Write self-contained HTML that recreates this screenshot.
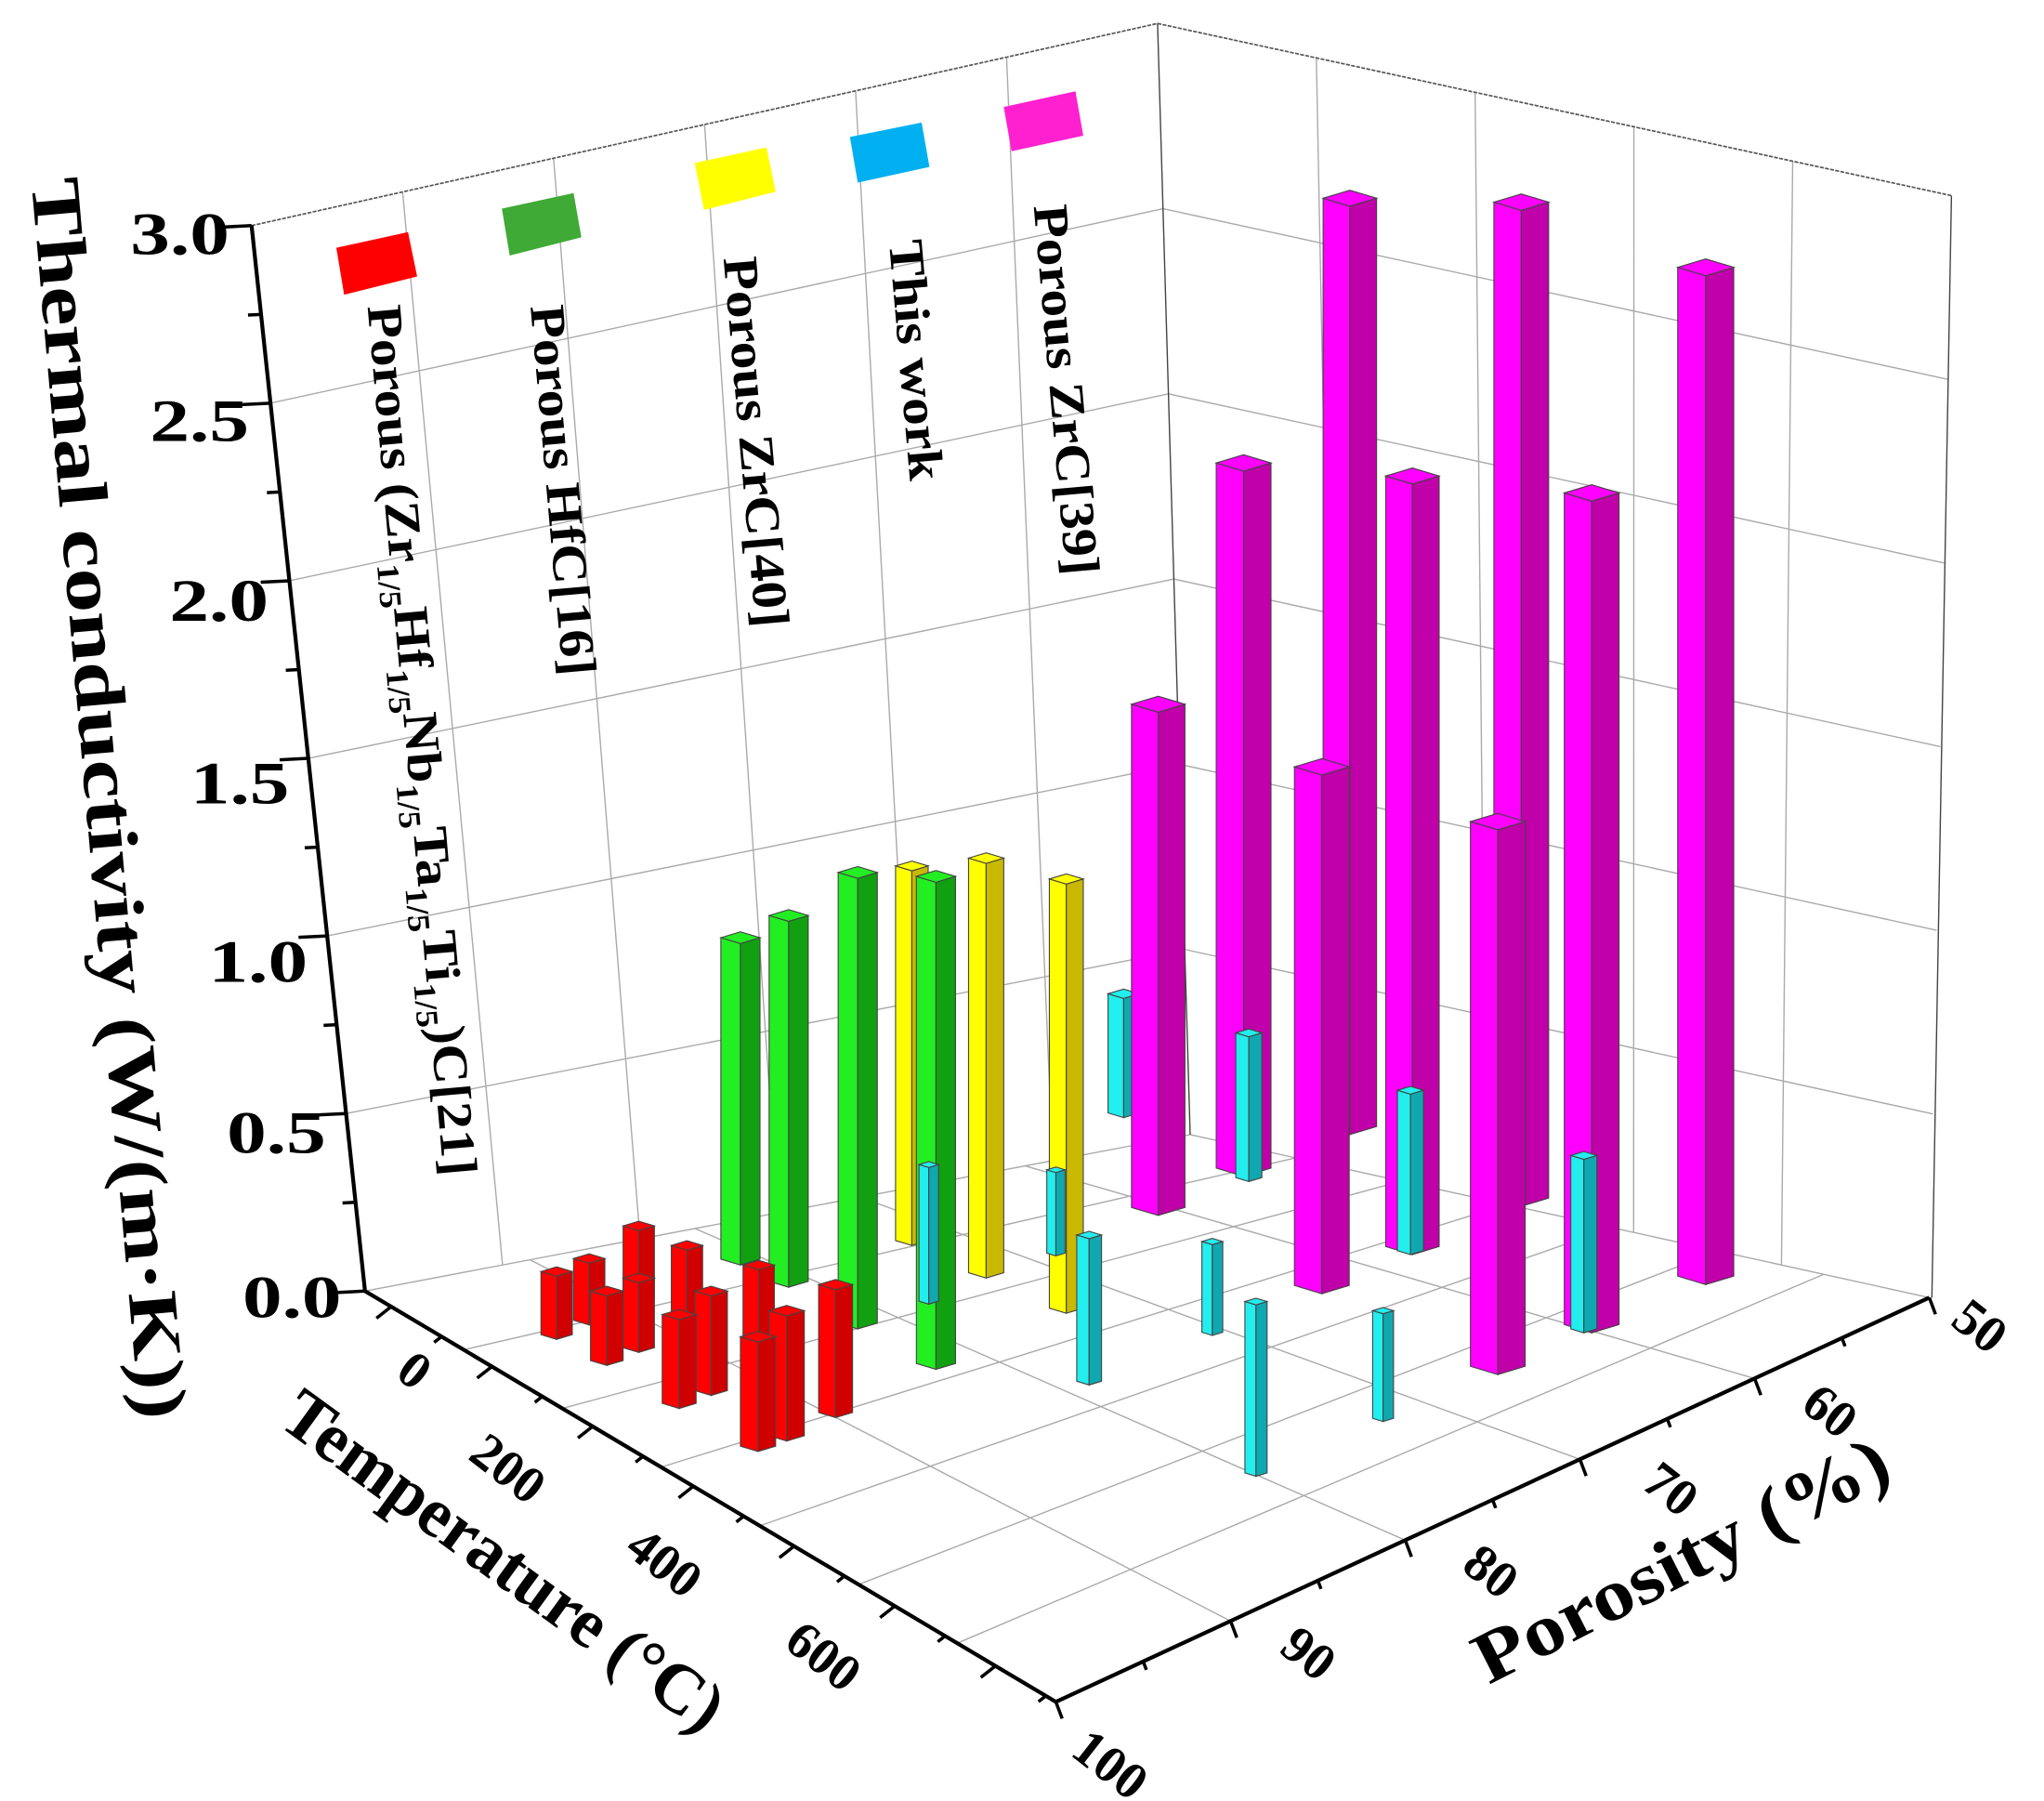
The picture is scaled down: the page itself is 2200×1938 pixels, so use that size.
<!DOCTYPE html>
<html><head><meta charset="utf-8"><style>
html,body{margin:0;padding:0;background:#fff}
svg{display:block}
text{font-family:"Liberation Serif",serif;font-weight:bold;fill:#000}
</style></head><body>
<svg id="s" width="2200" height="1938" viewBox="0 0 1568 1381" preserveAspectRatio="none" xmlns="http://www.w3.org/2000/svg">
<g id="grid" stroke="#aaa" stroke-width="1" fill="none"></g>
<g id="frame" stroke="#555" stroke-width="1.2" fill="none" stroke-dasharray="3,1">
<polyline points="193,173 888,18 1497,150"/>
</g>
<g stroke="#444" stroke-width="1" fill="none">
<line x1="888" y1="18" x2="913" y2="870"/>
<line x1="1497" y1="150" x2="1482" y2="995"/>
</g>
<g id="bars"></g>
<g stroke="#000" stroke-width="3" fill="none">
<line x1="193" y1="173" x2="280" y2="990"/>
<line x1="280" y1="990" x2="810" y2="1305"/>
<line x1="810" y1="1305" x2="1480" y2="995"/>
</g>
<g id="ticks" stroke="#000" stroke-width="2.5"></g>
<g font-size="46">
<text x="100" y="195" textLength="76" lengthAdjust="spacingAndGlyphs">3.0</text>
<text x="115" y="338" textLength="76" lengthAdjust="spacingAndGlyphs">2.5</text>
<text x="130" y="476" textLength="76" lengthAdjust="spacingAndGlyphs">2.0</text>
<text x="146" y="616" textLength="76" lengthAdjust="spacingAndGlyphs">1.5</text>
<text x="160" y="753" textLength="76" lengthAdjust="spacingAndGlyphs">1.0</text>
<text x="174" y="884" textLength="76" lengthAdjust="spacingAndGlyphs">0.5</text>
<text x="186" y="1010" textLength="76" lengthAdjust="spacingAndGlyphs">0.0</text>
</g>
<g font-size="40">
<text transform="translate(302,1055) rotate(38)">0</text>
<text transform="translate(358,1118) rotate(38)">200</text>
<text transform="translate(478,1190) rotate(38)">400</text>
<text transform="translate(600,1262) rotate(38)">600</text>
<text transform="translate(1495,1015) rotate(38)">50</text>
<text transform="translate(1380,1080) rotate(38)">60</text>
<text transform="translate(1258,1140) rotate(38)">70</text>
<text transform="translate(1120,1203) rotate(38)">80</text>
<text transform="translate(980,1266) rotate(38)">90</text>
<text transform="translate(820,1345) rotate(38)">100</text>
</g>
<text font-size="54" transform="translate(24,138) rotate(85)" textLength="955" lengthAdjust="spacingAndGlyphs">Thermal conductivity (W/(m·K))</text>
<text font-size="54" transform="translate(212,1092) rotate(36)" textLength="405" lengthAdjust="spacingAndGlyphs">Temperature (°C)</text>
<text font-size="56" transform="translate(1142,1292) rotate(-27)" textLength="350" lengthAdjust="spacingAndGlyphs">Porosity (%)</text>
<g>
<polygon points="258,190 313,178 320,212 264,226" fill="#ff0000"/>
<polygon points="385,160 440,148 446,182 391,196" fill="#3faa35"/>
<polygon points="533,125 588,113 595,147 540,161" fill="#ffff00"/>
<polygon points="652,105 707,94 713,128 658,140" fill="#00b0f0"/>
<polygon points="770,82 825,70 831,104 776,116" fill="#ff20d0"/>
</g>
<g font-size="38">
<text transform="translate(282,235) rotate(85)" textLength="670" lengthAdjust="spacingAndGlyphs">Porous (Zr<tspan font-size="24" dy="10">1/5</tspan><tspan dy="-10">Hf</tspan><tspan font-size="24" dy="10">1/5</tspan><tspan dy="-10">Nb</tspan><tspan font-size="24" dy="10">1/5</tspan><tspan dy="-10">Ta</tspan><tspan font-size="24" dy="10">1/5</tspan><tspan dy="-10">Ti</tspan><tspan font-size="24" dy="10">1/5</tspan><tspan dy="-10">)C[21]</tspan></text>
<text transform="translate(407,235) rotate(85)" textLength="285" lengthAdjust="spacingAndGlyphs">Porous HfC[16]</text>
<text transform="translate(555,198) rotate(85)" textLength="285" lengthAdjust="spacingAndGlyphs">Porous ZrC[40]</text>
<text transform="translate(682,185) rotate(85)" textLength="185" lengthAdjust="spacingAndGlyphs">This work</text>
<text transform="translate(793,158) rotate(85)" textLength="285" lengthAdjust="spacingAndGlyphs">Porous ZrC[39]</text>
</g>
</svg>
<script>
var NS="http://www.w3.org/2000/svg";
function el(p,t,a){var e=document.createElementNS(NS,t);for(var k in a)e.setAttribute(k,a[k]);p.appendChild(e);return e;}
function L(a,b,t){return [a[0]+(b[0]-a[0])*t,a[1]+(b[1]-a[1])*t];}
var g=document.getElementById('grid');
var F=[810,1305],Lc=[280,990],B=[913,870],R=[1480,995],Lt=[193,173],Bt=[888,18],Rt=[1497,150];
function line(a,b){el(g,'line',{x1:a[0],y1:a[1],x2:b[0],y2:b[1]});}
for(var i=1;i<7;i++){var t=i/7;line(L(Lc,F,t),L(B,R,t));}
for(var i=1;i<5;i++){var t=i/5;line(L(F,R,t),L(Lc,B,t));}
line(Lc,B);line(B,R);
for(var i=1;i<6;i++){var t=i/6;line(L(Lc,Lt,t),L(B,Bt,t));}
for(var i=1;i<6;i++){var t=i/6;line(L(Lt,Bt,t),L(Lc,B,t));}
for(var i=1;i<6;i++){var t=i/6;line(L(B,Bt,t),L(R,Rt,t));}
for(var i=1;i<5;i++){var t=i/5;line(L(Bt,Rt,t),L(B,R,t));}
var tk=document.getElementById('ticks');
for(var i=0;i<=12;i++){var p=L(Lc,Lt,i/12);var len=i%2?10:22;el(tk,'line',{x1:p[0]-len,y1:p[1]+len*0.05,x2:p[0],y2:p[1]});}
for(var i=0;i<=13;i++){var p=L([300,1002],F,i/13.2);var len=i%2?8:16;el(tk,'line',{x1:p[0],y1:p[1],x2:p[0]-len*0.7,y2:p[1]+len*0.55});}
for(var i=0;i<=10;i++){var p=L(F,R,i/10);var len=i%2?8:16;el(tk,'line',{x1:p[0],y1:p[1],x2:p[0]+len*0.3,y2:p[1]+len*0.8});}
var bars=document.getElementById('bars');
var C={m:['#ff00ff','#c000a8'],g:['#22ee22','#10a010'],y:['#ffff00','#c8b800'],c:['#22eeee','#10a8b0'],r:['#ff0000','#d00000']};
function bar(x,t,b,w,c){var h=w*0.15,col=C[c],s='#444';
el(bars,'polygon',{points:[x,t,x+w/2,t+h,x+w/2,b,x,b-h].join(' '),fill:col[0],stroke:s,'stroke-width':0.8});
el(bars,'polygon',{points:[x+w/2,t+h,x+w,t,x+w,b-h,x+w/2,b].join(' '),fill:col[1],stroke:s,'stroke-width':0.8});
el(bars,'polygon',{points:[x,t,x+w/2,t-h,x+w,t,x+w/2,t+h].join(' '),fill:col[0],stroke:s,'stroke-width':0.8});}
var list=[
['m',1287,205,985,43],['m',1146,155,925,42],['m',1015,152,870,41],
['c',850,762,857,24],
['y',687,664,955,25],['g',703,672,1050,30],
['m',868,540,932,41],['m',933,355,902,42],['m',1063,365,962,41],['m',1200,378,1022,42],
['c',948,792,906,20],['c',1072,836,962,20],['c',1205,886,1022,20],
['y',743,658,980,27],['y',805,674,1007,26],
['g',553,719,970,30],['g',590,702,987,30],['g',643,669,1019,30],
['c',705,893,1000,15],['c',803,897,963,14],['c',826,947,1062,19],['c',922,952,1024,16],
['m',993,588,992,42],['m',1128,630,1054,42],
['c',955,998,1132,17],['c',1053,1005,1090,16],
['r',478,940,1000,24],['r',515,955,1012,24],['r',440,965,1016,24],['r',415,975,1027,24],['r',570,970,1032,24],
['r',478,980,1037,24],['r',453,990,1047,25],['r',628,985,1087,26],['r',533,990,1070,25],
['r',508,1008,1080,26],['r',590,1005,1105,27],['r',568,1025,1113,27]
];
list.forEach(function(a){bar(a[1],a[2],a[3],a[4],a[0]);});
</script>
</body></html>
